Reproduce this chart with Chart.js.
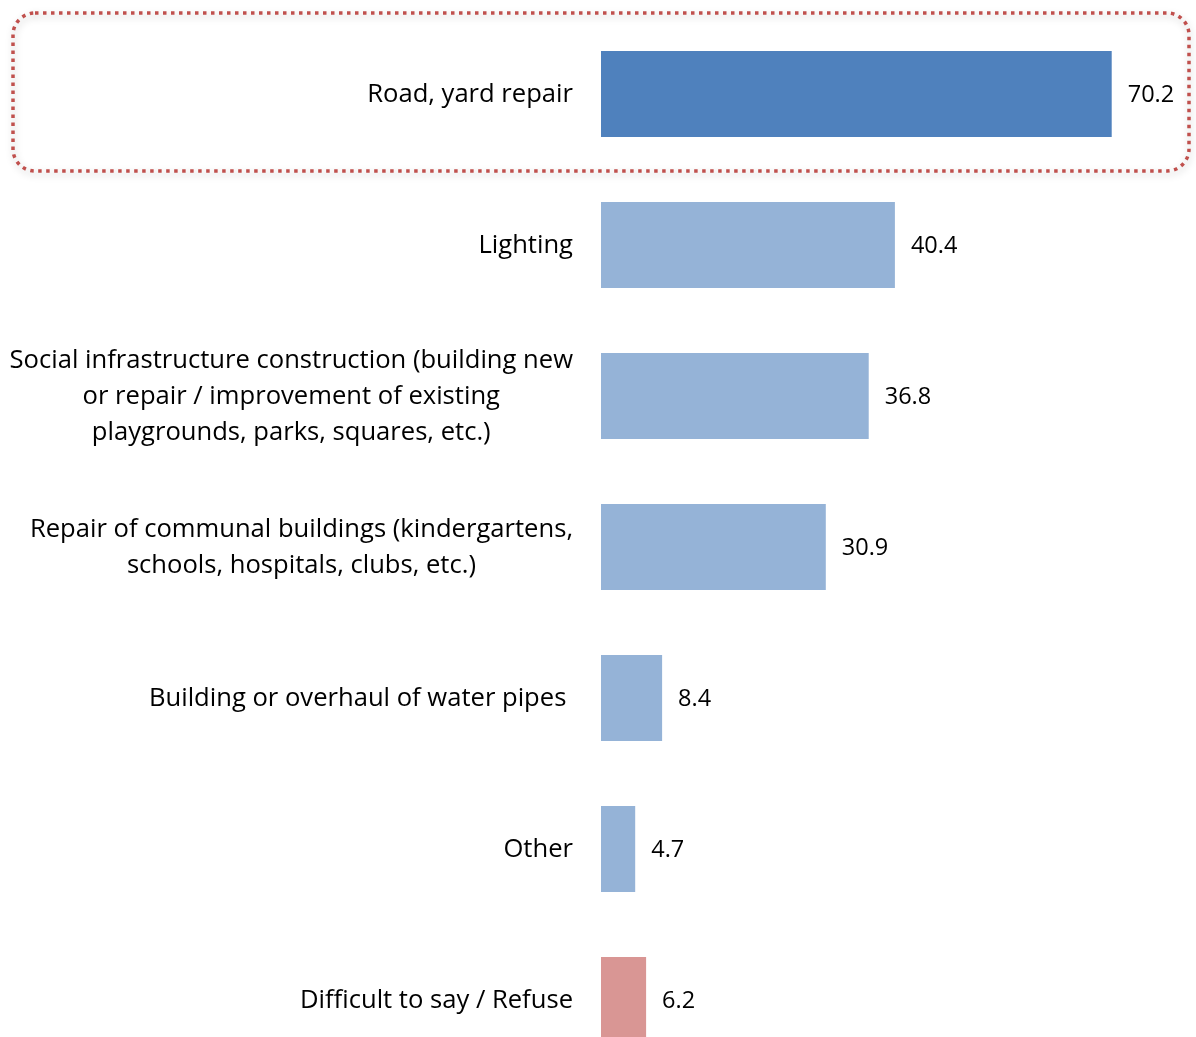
<!DOCTYPE html>
<html>
<head>
<meta charset="utf-8">
<script src="https://cdn.jsdelivr.net/npm/chart.js@4/dist/chart.umd.min.js"></script>
<style>
  html, body { margin: 0; padding: 0; background: #fff; overflow: hidden; }
  #wrap { width: 1196px; height: 1080px; }
</style>
</head>
<body>
<div id="wrap"><canvas id="chart" width="1196" height="1080"></canvas></div>
<script>
/* global Chart */
const categories = [
  ['Road, yard repair'],
  ['Lighting'],
  ['Social infrastructure construction (building new', 'or repair / improvement of existing', 'playgrounds, parks, squares, etc.)'],
  ['Repair of communal buildings (kindergartens,', 'schools, hospitals, clubs, etc.)'],
  ['Building or overhaul of water pipes '],
  ['Other'],
  ['Difficult to say / Refuse'],
];
const values = [70.2, 40.4, 36.8, 30.9, 8.4, 4.7, 6.2];
const barColors = ['#4F81BD', '#95B3D7', '#95B3D7', '#95B3D7', '#95B3D7', '#95B3D7', '#D99694'];

const LABEL_FONT = '25.6px "Open Sans"';
const VALUE_FONT = '23.5px "Open Sans"';

// dotted rounded frame around the highlighted first row
const highlightFrame = {
  id: 'highlightFrame',
  beforeDatasetsDraw(chart) {
    const { ctx } = chart;
    const yc = chart.scales.y.getPixelForValue(0);
    const x = 13, y = yc - 81, w = chart.width - 20, h = 158, r = 22;
    ctx.save();
    ctx.shadowColor = 'rgba(0,0,0,0.25)';
    ctx.shadowBlur = 7;
    ctx.shadowOffsetX = 1;
    ctx.shadowOffsetY = 3;
    ctx.strokeStyle = '#C0504D';
    ctx.lineWidth = 3.5;
    ctx.setLineDash([3.5, 4.5]);
    ctx.beginPath();
    ctx.roundRect(x, y, w, h, r);
    ctx.stroke();
    ctx.restore();
  },
};

// category labels: right-aligned block, lines centred inside it
const categoryLabels = {
  id: 'categoryLabels',
  afterDraw(chart) {
    const { ctx } = chart;
    const yScale = chart.scales.y;
    const right = chart.chartArea.left - 28;
    ctx.save();
    ctx.font = LABEL_FONT;
    ctx.fillStyle = '#000';
    ctx.textBaseline = 'middle';
    ctx.textAlign = 'center';
    categories.forEach((lines, i) => {
      const yc = yScale.getPixelForValue(i) + 1;
      const maxW = Math.max(...lines.map((l) => ctx.measureText(l).width));
      const cx = right - maxW / 2;
      const lh = 36;
      lines.forEach((line, j) => {
        const y = yc + (j - (lines.length - 1) / 2) * lh;
        ctx.fillText(line, cx, y);
      });
    });
    ctx.restore();
  },
};

// value labels next to bar ends
const valueLabels = {
  id: 'valueLabels',
  afterDatasetsDraw(chart) {
    const { ctx } = chart;
    const meta = chart.getDatasetMeta(0);
    ctx.save();
    ctx.font = VALUE_FONT;
    ctx.fillStyle = '#000';
    ctx.textBaseline = 'middle';
    ctx.textAlign = 'left';
    meta.data.forEach((bar, i) => {
      ctx.fillText(values[i].toFixed(1), bar.x + 16, bar.y + 1);
    });
    ctx.restore();
  },
};

new Chart(document.getElementById('chart'), {
  type: 'bar',
  data: {
    labels: categories.map((c) => c.join(' ')),
    datasets: [{
      data: values,
      backgroundColor: barColors,
      borderWidth: 0,
      categoryPercentage: 1,
      barPercentage: 0.57,
    }],
  },
  options: {
    indexAxis: 'y',
    animation: false,
    responsive: false,
    layout: { padding: { left: 601, right: 13, top: 18.5, bottom: 4.5 } },
    scales: {
      x: { display: false, min: 0, max: 80 },
      y: { display: false },
    },
    plugins: {
      legend: { display: false },
      tooltip: { enabled: false },
    },
  },
  plugins: [highlightFrame, categoryLabels, valueLabels],
});
</script>
</body>
</html>
